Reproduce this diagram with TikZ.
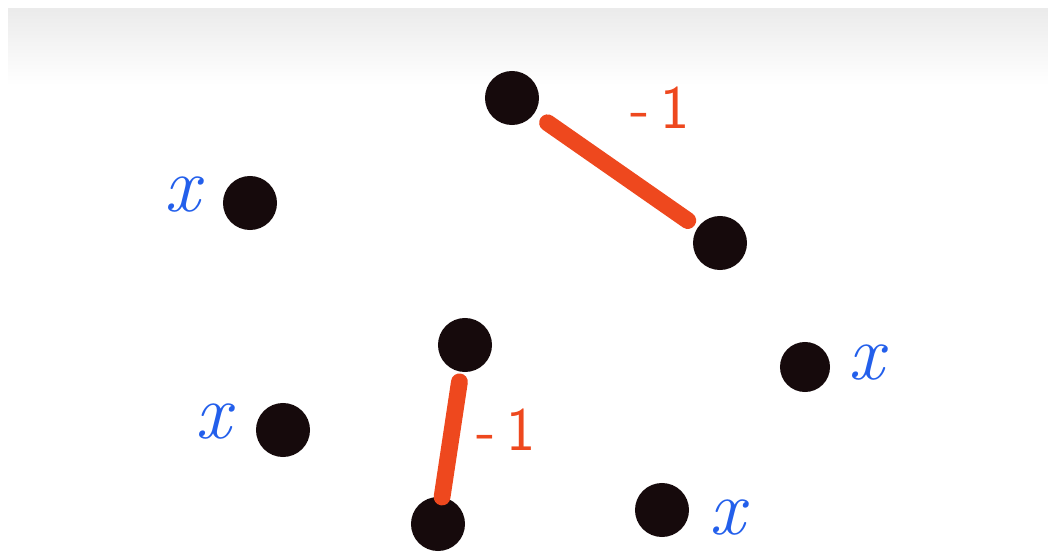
\documentclass[tikz,border=0pt]{standalone}
\usepackage{tikz}
\usetikzlibrary{positioning}
\definecolor{inkred}  {RGB}{238, 72, 30}
\definecolor{inkblue} {RGB}{ 35, 95,235}
\definecolor{inkblack}{RGB}{ 22, 10, 12}
\tikzset{
  dot/.style  ={circle,fill=inkblack,minimum size=1.35cm,inner sep=0pt},
  edg/.style  ={draw=inkred,line width=0.42cm,line cap=round},
  xlbl/.style ={text=inkblue,font=\fontsize{56}{56}\selectfont\itshape,inner sep=0pt},
  wlbl/.style ={text=inkred,font=\fontsize{44}{44}\selectfont\sffamily,inner sep=0pt},
}

\begin{document}
\begin{tikzpicture}[x=0.025cm,y=-0.025cm]
  \useasboundingbox (0,0) rectangle (1048,552);
  \shade[top color=black!8,bottom color=white] (8,8) rectangle (1048,85);
  % vertices
  \node[dot] (a) at (512, 98) {};
  \node[dot] (b) at (720,243) {};
  \node[dot] (c) at (250,203) {};
  \node[dot] (d) at (283,430) {};
  \node[dot] (e) at (465,345) {};
  \node[dot] (f) at (438,524) {};
  \node[dot,minimum size=1.25cm] (g) at (805,367) {};
  \node[dot] (h) at (662,510) {};
  % weighted edges
  \draw[edg,shorten <=0.4cm,shorten >=0.3cm] (a) -- (b);
  \draw[edg,shorten <=0.25cm,shorten >=0cm] (e) -- (f);
  \node[wlbl] (wab) at (660,108) {-\,1};
  \node[wlbl] (wef) at (506,430) {-\,1};
  % labels
  \node[xlbl,left=0.55cm of c,yshift=0.2cm] (xc) {x};
  \node[xlbl,left=0.6cm of d,yshift=0.2cm]  (xd) {x};
  \node[xlbl,right=0.45cm of g,yshift=0.1cm] (xg) {x};
  \node[xlbl,right=0.5cm of h,yshift=-0.2cm] (xh) {x};
\end{tikzpicture}
\end{document}
